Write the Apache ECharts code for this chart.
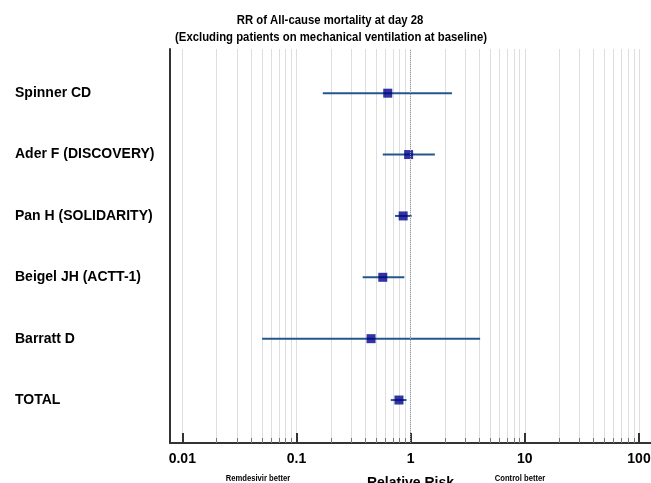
<!DOCTYPE html>
<html>
<head>
<meta charset="utf-8">
<script src="https://cdn.jsdelivr.net/npm/echarts@6/dist/echarts.min.js"></script>
<style>
  html, body { margin: 0; padding: 0; background: #fff; }
  #main { width: 651px; height: 483px; }
</style>
</head>
<body>
<div id="main"></div>
<script>
// study rows, top to bottom
var studies = ['Spinner CD', 'Ader F (DISCOVERY)', 'Pan H (SOLIDARITY)', 'Beigel JH (ACTT-1)', 'Barratt D', 'TOTAL'];
var rowPos  = [6, 5, 4, 3, 2, 1];
var rr      = [0.63, 0.96, 0.86, 0.57, 0.45, 0.79];
var lower   = [0.17, 0.57, 0.73, 0.38, 0.05, 0.67];
var upper   = [2.30, 1.63, 1.02, 0.88, 4.06, 0.92];

// axis tick values
var decadeTicks = [0.01, 0.1, 1, 10, 100];
var minorTicks = [0.01, 0.02, 0.03, 0.04, 0.05, 0.06, 0.07, 0.08, 0.09,
                  0.1, 0.2, 0.3, 0.4, 0.5, 0.6, 0.7, 0.8, 0.9,
                  1, 2, 3, 4, 5, 6, 7, 8, 9,
                  10, 20, 30, 40, 50, 60, 70, 80, 90, 100];

var titleLines = ['RR of All-cause mortality at day 28', '(Excluding patients on mechanical ventilation at baseline)'];

var FONT = '"Liberation Sans", Arial, sans-serif';

function initPage()
{
	var pts = [], bars = [];
	for (var i = 0; i < studies.length; i++) {
		pts.push([rr[i], rowPos[i]]);
		bars.push([lower[i], upper[i], rowPos[i]]);
	}

	var option = {
		animation: false,
		backgroundColor: '#fff',
		grid: { left: 170, right: 0, top: 49, bottom: 40, containLabel: false, outerBoundsMode: 'none' },
		xAxis: [
			{
				type: 'log', min: 0.0078, max: 127.4,
				position: 'bottom',
				axisLine: { show: true, lineStyle: { color: '#333', width: 2 } },
				axisTick: { show: true, inside: true, length: 5, customValues: minorTicks, lineStyle: { color: '#777', width: 1 } },
				splitLine: { show: true, lineStyle: { color: '#dedede', width: 1 } },
				axisLabel: {
					customValues: decadeTicks, margin: 9,
					fontFamily: FONT, fontSize: 14, fontWeight: 'bold', color: '#000',
					formatter: function (v) { return String(v); }
				},
				name: 'Relative Risk', nameLocation: 'middle', nameGap: 33,
				nameTextStyle: { fontFamily: FONT, fontSize: 14, fontWeight: 'bold', color: '#000' }
			},
			{
				type: 'log', min: 0.0078, max: 127.4,
				position: 'bottom',
				axisLine: { show: false },
				axisTick: { show: true, inside: true, length: 10, customValues: decadeTicks, lineStyle: { color: '#333', width: 2 } },
				splitLine: { show: false },
				axisLabel: { show: false }
			}
		],
		yAxis: {
			type: 'value', min: 0.3, max: 6.72,
			axisLine: { show: true, lineStyle: { color: '#333', width: 2 } },
			axisTick: { show: false },
			splitLine: { show: false },
			axisLabel: {
				customValues: rowPos, margin: 155, align: 'left',
				fontFamily: FONT, fontSize: 14, fontWeight: 'bold', color: '#000',
				formatter: function (v) { return studies[rowPos.indexOf(Math.round(v))] || ''; }
			}
		},
		graphic: [
			// title, a condensed bold face
			{ type: 'text', x: 330, y: 20, scaleX: 0.84,
			  style: { text: titleLines[0], fill: '#000', font: 'bold 13.5px ' + FONT, align: 'center', verticalAlign: 'middle' } },
			{ type: 'text', x: 331, y: 37, scaleX: 0.84,
			  style: { text: titleLines[1], fill: '#000', font: 'bold 13.5px ' + FONT, align: 'center', verticalAlign: 'middle' } },
			{ type: 'text', x: 258, y: 474, scaleX: 0.85,
			  style: { text: 'Remdesivir better', fill: '#000', font: 'bold 9px ' + FONT, align: 'center' } },
			{ type: 'text', x: 520, y: 474, scaleX: 0.85,
			  style: { text: 'Control better', fill: '#000', font: 'bold 9px ' + FONT, align: 'center' } }
		],
		series: [
			{
				type: 'custom',
				xAxisIndex: 0,
				data: bars,
				renderItem: function (params, api) {
					var a = api.coord([api.value(0), api.value(2)]);
					var b = api.coord([api.value(1), api.value(2)]);
					return {
						type: 'line',
						shape: { x1: a[0], y1: a[1], x2: b[0], y2: b[1] },
						style: { stroke: '#24578a', lineWidth: 2 }
					};
				},
				z: 3
			},
			{
				type: 'scatter',
				xAxisIndex: 0,
				data: pts,
				symbol: 'rect', symbolSize: 9,
				itemStyle: { color: '#00008b' },
				z: 4,
				markLine: {
					silent: true, symbol: 'none', label: { show: false },
					lineStyle: { color: '#8a9aa0', type: 'dotted', width: 1 },
					data: [{ xAxis: 1 }]
				}
			}
		]
	};

	var myChart = echarts.init(document.getElementById('main'));
	myChart.setOption(option);
}

initPage();
</script>
</body>
</html>
